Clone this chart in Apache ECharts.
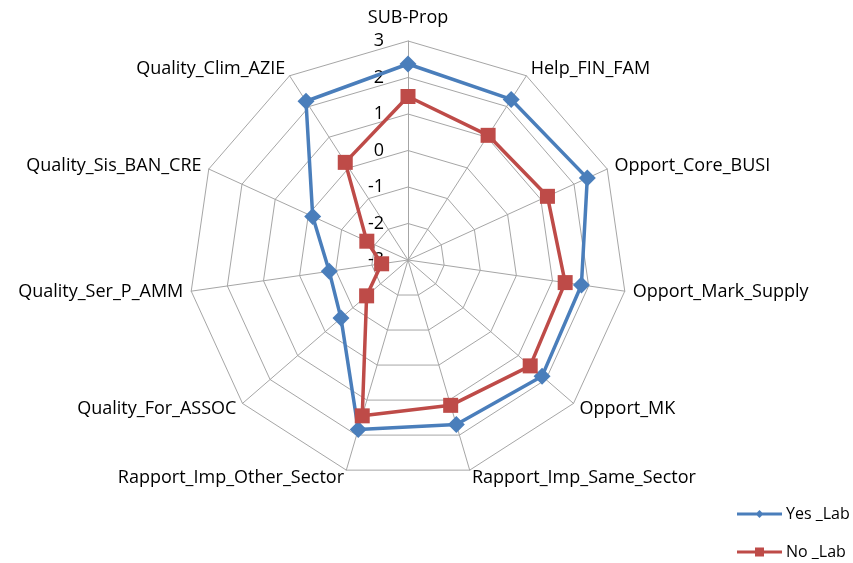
<!DOCTYPE html>
<html>
<head>
<meta charset="utf-8">
<script src="https://cdn.jsdelivr.net/npm/echarts@6/dist/echarts.min.js"></script>
<style>
  html, body { margin: 0; padding: 0; background: #fff; }
  #chart { width: 853px; height: 563px; }
</style>
</head>
<body>
<div id="chart"></div>
<script>
// Radar axes, clockwise from the top
const categories = [
  'SUB-Prop', 'Help_FIN_FAM', 'Opport_Core_BUSI', 'Opport_Mark_Supply', 'Opport_MK',
  'Rapport_Imp_Same_Sector', 'Rapport_Imp_Other_Sector', 'Quality_For_ASSOC',
  'Quality_Ser_P_AMM', 'Quality_Sis_BAN_CRE', 'Quality_Clim_AZIE'
];
const seriesNames = ['Yes _Lab', 'No _Lab'];
const yesLab = [2.37, 2.23, 2.40, 1.80, 1.86, 1.70, 1.84, -0.57, -0.82, -0.13, 2.17];
const noLab  = [1.48, 1.06, 1.20, 1.35, 1.43, 1.15, 1.45, -1.50, -2.27, -1.76, 0.18];
const scaleMin = -3;
const scaleMax = 3;

const FONT = '"Open Sans"';
const GRID = '#a6a6a6';
const BLUE = '#4a7ebb';
const RED = '#be4b48';

// ECharts lays radar indicators out counter-clockwise; keep the first axis
// on top and reverse the rest so the categories run clockwise.
const order = [0].concat(categories.map((_, i) => i).slice(1).reverse());
const pick = arr => order.map(i => arr[i]);

const indicator = pick(categories).map((name, i) => {
  const ind = { name: name, min: scaleMin, max: scaleMax };
  if (i === 0) {
    // value scale is printed along the vertical axis only
    ind.nameGap = 14;
    ind.axisLabel = {
      show: true, color: '#000', fontFamily: FONT, fontSize: 18, margin: 24
    };
  }
  return ind;
});

// legend glyphs: a line with the series marker in the middle
const yesIcon = 'path://M0,2.6 L45,2.6 L45,5.4 L0,5.4 Z M22.5,0 L26.5,4 L22.5,8 L18.5,4 Z';
const noIcon  = 'path://M0,3 L45,3 L45,6 L0,6 Z M18,0 L27,0 L27,9 L18,9 Z';

const chart = echarts.init(document.getElementById('chart'));
chart.setOption({
  animation: false,
  backgroundColor: '#fff',
  radar: {
    center: [408, 260],
    radius: 219,
    shape: 'polygon',
    startAngle: 90,
    splitNumber: 6,
    nameGap: 8,
    indicator: indicator,
    axisName: { color: '#000', fontFamily: FONT, fontSize: 18 },
    axisLabel: { show: false },
    axisTick: { show: false },
    axisLine: { show: true, lineStyle: { color: GRID, width: 1 } },
    splitLine: { show: true, lineStyle: { color: GRID, width: 1 } },
    splitArea: { show: false }
  },
  legend: {
    orient: 'vertical',
    left: 737,
    top: 506,
    padding: 0,
    itemWidth: 45,
    itemHeight: 9,
    itemGap: 22,
    textStyle: { color: '#000', fontFamily: FONT, fontSize: 16, padding: [0, 0, 0, -1] },
    data: [
      { name: seriesNames[0], icon: yesIcon, itemStyle: { color: BLUE } },
      { name: seriesNames[1], icon: noIcon, itemStyle: { color: RED } }
    ]
  },
  series: [{
    type: 'radar',
    data: [
      {
        name: seriesNames[0], value: pick(yesLab), symbol: 'diamond', symbolSize: 17,
        lineStyle: { color: BLUE, width: 3.5 },
        itemStyle: { color: BLUE }
      },
      {
        name: seriesNames[1], value: pick(noLab), symbol: 'rect', symbolSize: 15,
        lineStyle: { color: RED, width: 3.5 },
        itemStyle: { color: RED }
      }
    ]
  }]
});
</script>
</body>
</html>
